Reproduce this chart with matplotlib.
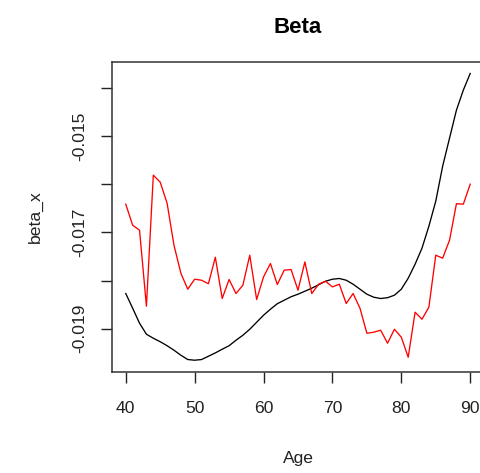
import numpy as np
import matplotlib
matplotlib.use('Agg')
import matplotlib.pyplot as plt

plt.rcParams['font.family'] = ['Liberation Sans', 'DejaVu Sans']

# Age grid and the two beta_x curves
age = np.arange(40, 91)

beta_fit = [-0.018271, -0.018577, -0.018890, -0.019119, -0.019202, -0.019275,
            -0.019358, -0.019452, -0.019556, -0.019646, -0.019660, -0.019646,
            -0.019577, -0.019508, -0.019431, -0.019358, -0.019244, -0.019140,
            -0.019015, -0.018869, -0.018723, -0.018598, -0.018483, -0.018410,
            -0.018338, -0.018285, -0.018223, -0.018160, -0.018088, -0.018015,
            -0.017973, -0.017958, -0.017994, -0.018077, -0.018181, -0.018285,
            -0.018348, -0.018375, -0.018358, -0.018306, -0.018181, -0.017952,
            -0.017660, -0.017327, -0.016869, -0.016348, -0.015619, -0.015035,
            -0.014452, -0.014035, -0.013688]

beta_raw = [-0.016410, -0.016848, -0.016952, -0.018535, -0.015806, -0.015952,
            -0.016390, -0.017265, -0.017848, -0.018181, -0.017973, -0.017994,
            -0.018067, -0.017515, -0.018375, -0.017979, -0.018271, -0.018098,
            -0.017473, -0.018396, -0.017925, -0.017646, -0.018083, -0.017785,
            -0.017771, -0.018202, -0.017613, -0.018271, -0.018077, -0.018015,
            -0.018133, -0.018077, -0.018479, -0.018271, -0.018577, -0.019098,
            -0.019077, -0.019035, -0.019306, -0.019015, -0.019181, -0.019598,
            -0.018660, -0.018806, -0.018556, -0.017473, -0.017535, -0.017160,
            -0.016400, -0.016410, -0.015994]

yticks = [-0.019, -0.018, -0.017, -0.016, -0.015, -0.014]
ytick_labels = ['-0.019', '', '-0.017', '', '-0.015', '']
xticks = [40, 50, 60, 70, 80, 90]

fig = plt.figure(figsize=(4.8, 4.73), dpi=100)
ax = fig.add_axes([0.2333, 0.2142, 0.775, 0.6547])

ax.plot(age, beta_fit, color='black', lw=0.95)
ax.plot(age, beta_raw, color='red', lw=0.95)

# R-style 4% padding on the range of the fitted curve
lo, hi = min(beta_fit), max(beta_fit)
pad = 0.04 * (hi - lo)
ax.set_ylim(lo - pad, hi + pad)
ax.set_xlim(38, 92)

ax.set_xticks(xticks)
ax.set_yticks(yticks)
ax.set_yticklabels(ytick_labels, rotation=90, va='center')
ax.tick_params(axis='both', direction='out', length=8, width=1.0,
               labelsize=12.6, colors='#222222')
ax.tick_params(axis='x', pad=13)
ax.tick_params(axis='y', pad=10)

for s in ax.spines.values():
    s.set_linewidth(1.1)
    s.set_color('#333333')

ax.set_xlabel('Age', fontsize=12.6, labelpad=25, color='#222222')
ax.set_ylabel('beta_x', fontsize=12.6, labelpad=21, color='#222222')
ax.set_title('Beta', fontsize=16, fontweight='bold', pad=21)

fig.savefig('out.png', dpi=100)
